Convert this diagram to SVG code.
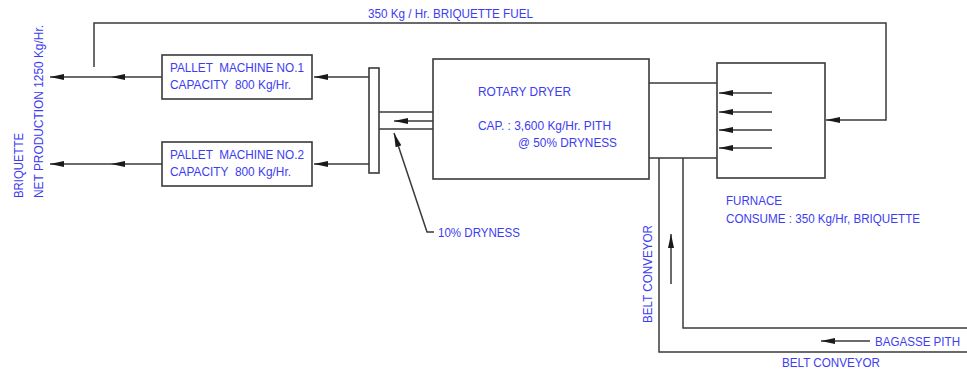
<svg xmlns="http://www.w3.org/2000/svg" width="967" height="374" viewBox="0 0 967 374">
<style>
.ln{fill:none;stroke:#3a3a3a;stroke-width:1.5}
.bx{fill:#fff;stroke:#3a3a3a;stroke-width:1.6}
.t{font-family:"Liberation Sans",Arial,sans-serif;font-size:12px;fill:#3c3cf0;white-space:pre}
.a{marker-end:url(#ah)}
.am{marker-mid:url(#ah);marker-end:url(#ah)}
</style>
<defs>
<marker id="ah" markerUnits="userSpaceOnUse" markerWidth="14" markerHeight="6" refX="14" refY="3" orient="auto" viewBox="0 0 14 6">
<path d="M0,0 L14,3 L0,6 z" fill="#1a1a1a"/>
</marker>
</defs>
<rect width="967" height="374" fill="#fff"/>
<g id="connectors">
<polyline class="ln a" points="94,67 94,23 886,23 886,120 826,120"/>
<polyline class="ln am" points="162,77 111,77 50,77"/>
<polyline class="ln am" points="162,164 111,164 50,164"/>
<polyline class="ln a" points="369,77 314,77"/>
<polyline class="ln a" points="369,164 314,164"/>
<line class="ln" x1="379" y1="112" x2="433" y2="112"/>
<line class="ln" x1="379" y1="129" x2="433" y2="129"/>
<polyline class="ln a" points="433,121 394,121"/>
<polyline class="ln a" points="434,232 427,232 394,133"/>
<line class="ln" x1="649" y1="83" x2="717" y2="83"/>
<line class="ln" x1="649" y1="158" x2="717" y2="158"/>
<polyline class="ln" points="659,158 659,352 967,352"/>
<polyline class="ln" points="683,158 683,328 967,328"/>
<polyline class="ln a" points="671,284 671,234"/>
<polyline class="ln a" points="870,341 821,341"/>
</g>
<g id="pallet1">
<rect class="bx" x="162" y="55" width="150" height="44"/>
<text class="t" x="170" y="72" textLength="134" lengthAdjust="spacingAndGlyphs" xml:space="preserve">PALLET  MACHINE NO.1</text>
<text class="t" x="170" y="89" textLength="121" lengthAdjust="spacingAndGlyphs" xml:space="preserve">CAPACITY  800 Kg/Hr.</text>
</g>
<g id="pallet2">
<rect class="bx" x="162" y="142" width="150" height="44"/>
<text class="t" x="170" y="159" textLength="134" lengthAdjust="spacingAndGlyphs" xml:space="preserve">PALLET  MACHINE NO.2</text>
<text class="t" x="170" y="176" textLength="121" lengthAdjust="spacingAndGlyphs" xml:space="preserve">CAPACITY  800 Kg/Hr.</text>
</g>
<g id="plate">
<rect class="bx" x="369" y="68" width="10" height="105"/>
</g>
<g id="dryer">
<rect class="bx" x="433" y="59" width="216" height="120"/>
<text class="t" x="478" y="96" textLength="93" lengthAdjust="spacingAndGlyphs">ROTARY DRYER</text>
<text class="t" x="478" y="130" textLength="133" lengthAdjust="spacingAndGlyphs">CAP. : 3,600 Kg/Hr. PITH</text>
<text class="t" x="518" y="147" textLength="99" lengthAdjust="spacingAndGlyphs">@ 50% DRYNESS</text>
</g>
<g id="furnace">
<rect class="bx" x="717" y="63" width="108" height="115"/>
<polyline class="ln a" points="772,93 719,93"/>
<polyline class="ln a" points="772,112 719,112"/>
<polyline class="ln a" points="772,130 719,130"/>
<polyline class="ln a" points="772,148 719,148"/>
<text class="t" x="726" y="205" textLength="56" lengthAdjust="spacingAndGlyphs">FURNACE</text>
<text class="t" x="726" y="223" textLength="194" lengthAdjust="spacingAndGlyphs">CONSUME : 350 Kg/Hr, BRIQUETTE</text>
</g>
<g id="labels">
<text class="t" x="368" y="18" textLength="165" lengthAdjust="spacingAndGlyphs">350 Kg / Hr. BRIQUETTE FUEL</text>
<text class="t" x="438" y="237" textLength="82" lengthAdjust="spacingAndGlyphs">10% DRYNESS</text>
<text class="t" x="875" y="346" textLength="85" lengthAdjust="spacingAndGlyphs">BAGASSE PITH</text>
<text class="t" x="782" y="367" textLength="98" lengthAdjust="spacingAndGlyphs">BELT CONVEYOR</text>
<text class="t" transform="translate(652,323) rotate(-90)" textLength="98" lengthAdjust="spacingAndGlyphs">BELT CONVEYOR</text>
<text class="t" transform="translate(23,198) rotate(-90)" textLength="65" lengthAdjust="spacingAndGlyphs">BRIQUETTE</text>
<text class="t" transform="translate(43,198) rotate(-90)" textLength="173" lengthAdjust="spacingAndGlyphs">NET PRODUCTION 1250 Kg/Hr.</text>
</g>
</svg>
